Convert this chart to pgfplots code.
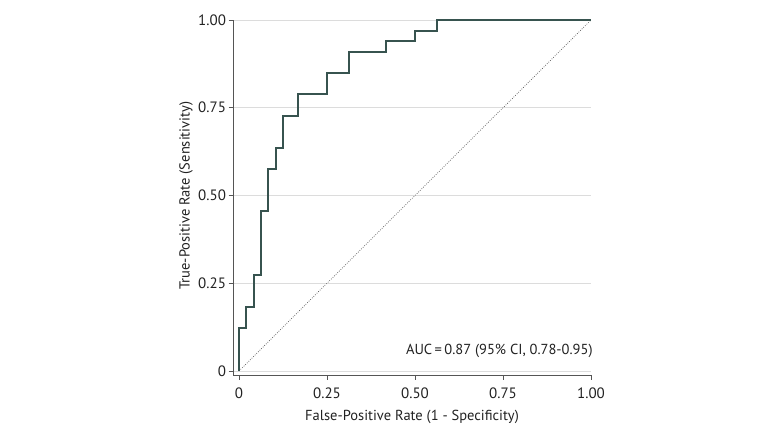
\documentclass[border=0pt]{standalone}
\usepackage{fontspec}
\setmainfont{PT Sans}
\usepackage{pgfplots}
\pgfplotsset{compat=1.18}
\definecolor{roc}{HTML}{37534F}
\definecolor{axisgray}{HTML}{555555}
\definecolor{gridgray}{HTML}{DCDCDC}
\definecolor{diaggray}{HTML}{555555}
\definecolor{txt}{HTML}{222222}
\begin{document}
\begin{tikzpicture}[x=1bp,y=1bp]
\useasboundingbox[fill=white] (0,0) rectangle (780,432);
\begin{axis}[
  at={(233bp,57bp)}, anchor=south west,
  scale only axis, width=358bp, height=355bp,
  xmin=-0.017, xmax=1, ymin=-0.0114, ymax=1,
  clip=false,
  axis x line*=bottom, axis y line*=left,
  axis line style={draw=axisgray, line width=0.8pt, -},
  xtick={0,0.25,0.5,0.75,1}, xticklabels={0,0.25,0.50,0.75,1.00},
  ytick={0,0.25,0.5,0.75,1}, yticklabels={0,0.25,0.50,0.75,1.00},
  tick align=outside, major tick length=4.5bp,
  tick style={draw=axisgray, line width=0.8pt},
  ymajorgrids, grid style={draw=gridgray, line width=0.9pt},
  ticklabel style={font=\fontsize{15bp}{17bp}\selectfont, text=txt},
  yticklabel style={xshift=1bp},
  xticklabel style={yshift=-5bp},
  label style={font=\fontsize{14.5bp}{17bp}\selectfont, text=txt},
  xlabel={False-Positive Rate (1 - Specificity)},
  ylabel={True-Positive Rate (Sensitivity)},
  xlabel style={at={(axis description cs:0.5,-0.118)}, anchor=center},
  ylabel style={at={(axis description cs:-0.131,0.505)}, anchor=center},
]
\addplot[diaggray, line width=0.7pt, dash pattern=on 0.75pt off 1.5pt] coordinates {(0,0) (1,1)};
\addplot[roc, line width=2bp, line join=miter] coordinates {
(0,0)(0,0.1212)(0.0208,0.1212)(0.0208,0.1818)(0.0417,0.1818)(0.0417,0.2727)
(0.0625,0.2727)(0.0625,0.4545)(0.0833,0.4545)(0.0833,0.5758)(0.1042,0.5758)
(0.1042,0.6364)(0.125,0.6364)(0.125,0.7273)(0.1667,0.7273)(0.1667,0.7879)
(0.25,0.7879)(0.25,0.8485)(0.3125,0.8485)(0.3125,0.9091)(0.4167,0.9091)
(0.4167,0.9394)(0.5,0.9394)(0.5,0.9697)(0.5625,0.9697)(0.5625,1)(1,1)};
\node[anchor=east, inner sep=0pt, text=txt, font=\fontsize{14.5bp}{17bp}\selectfont] at (axis cs:1.005,0.057) {AUC\,=\,0.87 (95\% CI, 0.78-0.95)};
\end{axis}
\end{tikzpicture}
\end{document}
